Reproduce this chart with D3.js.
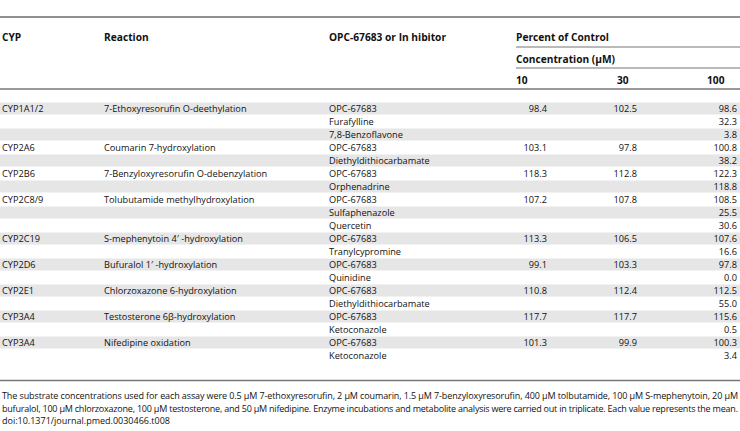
<!DOCTYPE html>
<html>
<head>
<meta charset="utf-8">
<script src="https://cdn.jsdelivr.net/npm/d3@7"></script>
<style>
  body { margin: 0; background: #fff; }
  svg text { font-family: "Open Sans", "Noto Sans", sans-serif; fill: #111; }
  .hd { font-weight: bold; font-size: 10.2px; }
  .cell { font-size: 9.2px; }
  .note { font-size: 9px; }
</style>
</head>
<body>
<div id="chart"></div>
<script>
const cyps = ['CYP1A1/2', '', '', 'CYP2A6', '', 'CYP2B6', '', 'CYP2C8/9', '', '', 'CYP2C19', '',
  'CYP2D6', '', 'CYP2E1', '', 'CYP3A4', '', 'CYP3A4', ''];
const reactions = ['7-Ethoxyresorufin O-deethylation', '', '', 'Coumarin 7-hydroxylation', '',
  '7-Benzyloxyresorufin O-debenzylation', '', 'Tolubutamide methylhydroxylation', '', '',
  'S-mephenytoin 4\u2032 -hydroxylation', '', 'Bufuralol 1\u2032 -hydroxylation', '',
  'Chlorzoxazone 6-hydroxylation', '', 'Testosterone 6\u03b2-hydroxylation', '',
  'Nifedipine oxidation', ''];
const agents = ['OPC-67683', 'Furafylline', '7,8-Benzoflavone', 'OPC-67683', 'Diethyldithiocarbamate',
  'OPC-67683', 'Orphenadrine', 'OPC-67683', 'Sulfaphenazole', 'Quercetin', 'OPC-67683',
  'Tranylcypromine', 'OPC-67683', 'Quinidine', 'OPC-67683', 'Diethyldithiocarbamate',
  'OPC-67683', 'Ketoconazole', 'OPC-67683', 'Ketoconazole'];
const conc10 = [98.4, null, null, 103.1, null, 118.3, null, 107.2, null, null, 113.3, null,
  99.1, null, 110.8, null, 117.7, null, 101.3, null];
const conc30 = [102.5, null, null, 97.8, null, 112.8, null, 107.8, null, null, 106.5, null,
  103.3, null, 112.4, null, 117.7, null, 99.9, null];
const conc100 = [98.6, 32.3, 3.8, 100.8, 38.2, 122.3, 118.8, 108.5, 25.5, 30.6, 107.6, 16.6,
  97.8, 0.0, 112.5, 55.0, 115.6, 0.5, 100.3, 3.4];
const concLabels = ['10', '30', '100'];
const notes = [
  'The substrate concentrations used for each assay were 0.5 \u03bcM 7-ethoxyresorufin, 2 \u03bcM coumarin, 1.5 \u03bcM 7-benzyloxyresorufin, 400 \u03bcM tolbutamide, 100 \u03bcM S-mephenytoin, 20 \u03bcM',
  'bufuralol, 100 \u03bcM chlorzoxazone, 100 \u03bcM testosterone, and 50 \u03bcM nifedipine. Enzyme incubations and metabolite analysis were carried out in triplicate. Each value represents the mean.',
  'doi:10.1371/journal.pmed.0030466.t008'
];

const width = 740, height = 431;
const svg = d3.select('#chart').append('svg')
  .attr('width', width)
  .attr('height', height);

svg.append('rect').attr('width', width).attr('height', height).attr('fill', '#fff');

// rows
const y = d3.scaleBand()
  .domain(d3.range(agents.length))
  .range([102, 102 + 13 * agents.length]);

const fmt = d3.format('.1f');

// column anchors
const colX = { cyp: 2, reaction: 104, agent: 329, pct: 516 };
const valX = [547, 637, 737];
const headX = [516, 617, 707];

// shaded bands
svg.selectAll('.band')
  .data(d3.range(agents.length).filter(i => i % 2 === 0))
  .enter().append('rect')
  .attr('class', 'band')
  .attr('x', 0)
  .attr('width', width)
  .attr('y', i => y(i) + 0.5)
  .attr('height', y.bandwidth() - 1)
  .attr('fill', '#e6e6e6');

// rules
const rule = (x1, x2, yy, color, w) => svg.append('line')
  .attr('x1', x1).attr('x2', x2).attr('y1', yy).attr('y2', yy)
  .attr('stroke', color).attr('stroke-width', w);

rule(0, width, 17, '#222', 1.2);
rule(colX.pct, width, 47, '#777', 1.2);
rule(colX.pct, width, 68, '#777', 1.2);
rule(0, width, 89, '#777', 1.5);
rule(0, width, 380.5, '#777', 1.5);

// header
const head = svg.append('g').attr('class', 'hd');
[['CYP', colX.cyp], ['Reaction', colX.reaction], ['OPC-67683 or In hibitor', colX.agent],
 ['Percent of Control', colX.pct]].forEach(([t, x]) => {
  head.append('text').attr('x', x).attr('y', 37).attr('dy', '0.35em').text(t);
});
head.append('text').attr('x', colX.pct).attr('y', 59).attr('dy', '0.35em')
  .text('Concentration (\u03bcM)');
head.selectAll('.conc')
  .data(concLabels)
  .enter().append('text')
  .attr('x', (d, i) => headX[i])
  .attr('y', 80)
  .attr('dy', '0.35em')
  .text(d => d);

// body
const rows = svg.selectAll('.row')
  .data(d3.range(agents.length))
  .enter().append('g')
  .attr('class', 'row cell')
  .attr('transform', i => `translate(0, ${y(i) + y.bandwidth() / 2})`);

rows.append('text').attr('x', colX.cyp).attr('dy', '0.35em').text(i => cyps[i]);
rows.append('text').attr('x', colX.reaction).attr('dy', '0.35em').text(i => reactions[i]);
rows.append('text').attr('x', colX.agent).attr('dy', '0.35em').text(i => agents[i]);

[conc10, conc30, conc100].forEach((vals, k) => {
  rows.append('text')
    .attr('x', valX[k])
    .attr('dy', '0.35em')
    .attr('text-anchor', 'end')
    .text(i => vals[i] == null ? '' : fmt(vals[i]));
});

// footnote
svg.selectAll('.note')
  .data(notes)
  .enter().append('text')
  .attr('class', 'note')
  .attr('x', 2)
  .attr('y', (d, i) => 396 + i * 12.5)
  .attr('dy', '0.35em')
  .attr('textLength', (d, i) => i < 2 ? 736 : null)
  .attr('lengthAdjust', 'spacing')
  .text(d => d);
</script>
</body>
</html>
